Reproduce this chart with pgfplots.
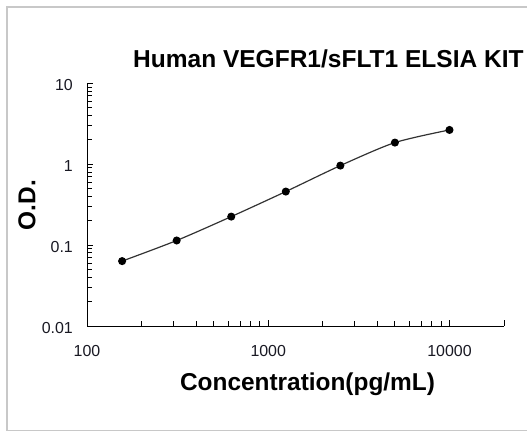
\documentclass[border=0pt]{standalone}
\usepackage{fontspec}
\setmainfont{Liberation Sans}
\usepackage{pgfplots}
\pgfplotsset{compat=1.18}

\definecolor{framegray}{RGB}{200,200,200}
\definecolor{curvegray}{RGB}{50,50,50}
\definecolor{ticktext}{RGB}{25,25,35}

\begin{document}
\begin{tikzpicture}[x=1bp,y=1bp]
\useasboundingbox (0,0) rectangle (527,434);
\clip (0,0) rectangle (527,434);

% outer chart frame (right side runs past the image)
\draw[framegray, line width=1.5bp] (7,427) rectangle (560,3.5);

\begin{axis}[
    at={(87bp,108bp)}, anchor=south west,
    scale only axis,
    width=417bp, height=242.7bp,
    xmode=log, ymode=log,
    xmin=100, xmax=20000,
    ymin=0.01, ymax=10,
    axis lines=left,
    axis line style={-, black, line width=0.9bp},
    tick align=inside,
    tick style={black, line width=0.9bp},
    major tick length=6.5bp,
    minor tick length=5bp,
    xtick={100,1000,10000},
    xticklabels={100,1000,10000},
    ytick={0.01,0.1,1,10},
    yticklabels={0.01,0.1,1,10},
    extra x ticks={20000},
    extra x tick labels={},
    /pgf/number format/assume math mode=true,
    ticklabel style={font=\fontsize{16}{18}\selectfont, text=ticktext},
    xticklabel style={anchor=north, inner sep=0pt, yshift=-19bp},
    yticklabel style={anchor=east, inner sep=0pt, xshift=-14bp, yshift=-2bp},
    clip=false,
]
\addplot[curvegray, line width=1.2bp, smooth, tension=0.45,
         mark=*, mark size=3.4bp, mark options={fill=black, draw=black}]
  coordinates {
    (156.25,0.0634)
    (312.5,0.114)
    (625,0.225)
    (1250,0.459)
    (2500,0.961)
    (5000,1.85)
    (10000,2.65)
  };
\end{axis}

% chart title
\node[anchor=base west, inner sep=0pt, font=\fontsize{24.6}{28}\selectfont\bfseries]
  at (133,366) {Human VEGFR1/sFLT1 ELSIA KIT};
% axis titles
\node[anchor=base, inner sep=0pt, font=\fontsize{24.5}{28}\selectfont\bfseries]
  at (307.5,43.5) {Concentration(pg/mL)};
\node[rotate=90, inner sep=0pt, font=\fontsize{24.5}{28}\selectfont\bfseries]
  at (27,229) {O.D.};
\end{tikzpicture}
\end{document}
